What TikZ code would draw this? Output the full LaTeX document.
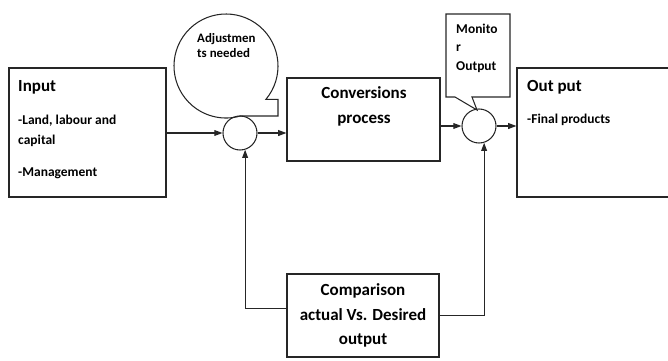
\documentclass[tikz,border=0pt]{standalone}
\usepackage{fontspec}
\setmainfont{Carlito}
\usetikzlibrary{arrows.meta}

\begin{document}
\begin{tikzpicture}[x=0.03cm, y=0.03cm,
    block/.style ={rectangle, draw=black!85, line width=1pt, inner sep=0pt},
    junction/.style ={circle, draw=black!85, line width=0.9pt, inner sep=0pt, minimum size=1.02cm},
    title/.style ={font=\bfseries\fontsize{14.5}{20.6}\selectfont, inner sep=0pt},
    body/.style ={font=\bfseries\fontsize{11.5}{17}\selectfont, align=left, inner sep=0pt},
    flow/.style ={line width=0.9pt, draw=black!85, -{Triangle[length=7pt, width=5pt]}}]
   \useasboundingbox (0,0) rectangle (668,-360);

   \node[block, minimum width=4.71cm, minimum height=3.87cm] (In) at (87.5,-132.5) {};
   \node[title, anchor=base west] (InT) at (18,-91) {Input};
   \node[body, anchor=base west] (InB) at (18,-176) {-Land, labour and\\capital\\[10pt]-Management};

   \node[junction] (S1) at (240,-133) {};
   \node[block, minimum width=4.59cm, minimum height=2.49cm] (Conv) at (363.5,-119.5) {};
   \node[title, align=center, anchor=base] (ConvT) at (364,-123) {Conversions\\process};

   \node[junction] (S2) at (479,-126) {};
   \node[block, minimum width=4.89cm, minimum height=3.87cm] (Out) at (598.5,-132.5) {};
   \node[title, anchor=base west] (OutT) at (527,-91) {Out put};
   \node[body, anchor=base west] (OutB) at (527,-123) {-Final products};

   \node[block, title, align=center, minimum width=4.56cm, minimum height=2.49cm] (Comp) at (363,-315.5) {Comparison\\actual Vs. Desired\\output};

   % callouts
   \draw[black!85, line width=0.9pt] (226,-66) ++(-40:1.56cm) arc[start angle=-40, end angle=286, radius=1.56cm] -- (278,-116) -- (278,-99.4) -- cycle;
   \node[body, font=\bfseries\fontsize{11}{12.8}\selectfont, anchor=base west] (AdjT) at (197,-57) {Adjustmen\\ts needed};
   \draw[black!85, line width=0.9pt] (446,-14) -- (510,-14) -- (510,-97) -- (472,-97) -- (477,-110) -- (455,-97) -- (446,-97) -- cycle;
   \node[body, font=\bfseries\fontsize{11.5}{15.5}\selectfont, anchor=base west] (MonT) at (456,-70) {Monito\\r\\Output};

   \draw[flow] (S1 -| In.east) -- (S1.west);
   \draw[flow] (S1.east) -- (S1 -| Conv.west);
   \draw[flow] (S2 -| Conv.east) -- (S2.west);
   \draw[flow] (S2.east) -- (S2 -| Out.west);
   \draw[flow] ([yshift=0.22cm]Comp.west) -| (S1.-73);
   \draw[flow] (Comp.east) -| (S2.-73);
\end{tikzpicture}
\end{document}
